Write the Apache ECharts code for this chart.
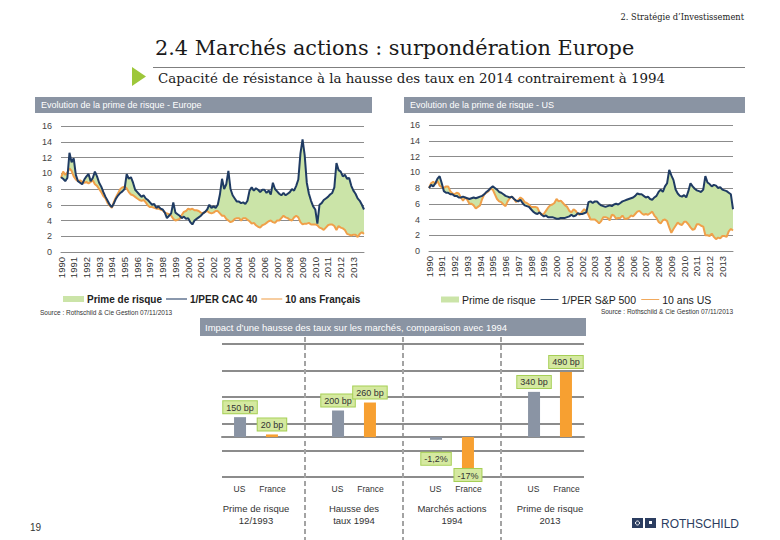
<!DOCTYPE html>
<html><head><meta charset="utf-8">
<script src="https://cdn.jsdelivr.net/npm/echarts@6.0.0/dist/echarts.min.js"></script>
<style>html,body{margin:0;padding:0;background:#fff}#c{width:780px;height:540px}</style>
</head><body><div id="c"></div>
<script>
// ---------- DATA ----------
const years = [1990,1991,1992,1993,1994,1995,1996,1997,1998,1999,2000,2001,2002,2003,2004,2005,2006,2007,2008,2009,2010,2011,2012,2013];
const months = ['01','03','05','07','09','11'];

// Europe : 1/PER CAC 40 (bi-monthly)
const euPer = [
 9.5,9.3,9.0,9.4,12.6,11.4,
 11.9,9.8,9.0,8.8,8.6,9.2,
 9.6,9.9,9.0,9.4,10.2,9.6,
 8.8,8.3,7.6,7.0,6.5,6.0,
 5.7,6.2,6.8,7.2,7.5,7.7,
 8.0,9.9,9.3,9.5,8.8,7.9,
 7.6,7.3,7.0,7.2,6.8,6.6,
 6.3,6.0,6.1,5.6,5.8,5.5,
 5.4,5.0,4.3,4.6,4.9,6.3,
 5.0,4.8,4.6,4.3,4.5,4.2,
 4.3,3.8,3.5,4.0,4.2,4.4,
 4.6,4.9,5.1,5.4,6.0,5.6,
 5.8,5.6,6.0,7.3,9.3,8.0,
 8.6,10.3,8.0,7.2,6.8,6.4,
 6.4,6.2,6.3,6.1,6.5,7.8,
 8.2,7.8,8.1,7.9,7.6,7.9,
 7.9,7.5,7.8,7.3,8.8,8.0,
 7.7,7.4,7.2,7.5,7.2,7.4,
 7.6,8.0,7.8,8.4,9.2,12.5,
 14.3,12.3,8.8,7.4,6.5,5.8,
 5.4,3.6,6.0,6.2,6.6,6.8,
 7.0,7.3,7.5,8.2,11.3,10.4,
 10.2,9.6,9.8,9.3,9.4,8.4,
 7.8,7.4,6.8,6.5,6.0,5.4
];
// Europe : 10 ans Français
const euYield = [
 9.4,10.2,9.8,10.1,10.6,10.3,
 9.6,9.2,9.0,9.1,8.9,8.8,
 8.9,8.7,8.9,9.1,8.6,8.4,
 8.0,7.6,7.1,6.8,6.2,5.9,
 5.6,6.4,7.0,7.5,8.0,8.2,
 8.3,8.1,7.6,7.3,7.2,7.0,
 6.8,6.6,6.5,6.6,6.3,5.9,
 5.7,5.7,5.6,5.5,5.5,5.4,
 5.3,5.0,4.9,4.8,4.6,4.2,
 4.0,4.1,4.2,4.7,5.1,5.2,
 5.5,5.4,5.5,5.3,5.3,5.2,
 5.0,4.9,5.1,5.2,5.0,4.9,
 5.0,5.2,5.2,4.9,4.6,4.6,
 4.2,4.0,3.8,3.9,4.2,4.3,
 4.3,4.0,4.3,4.3,4.1,3.9,
 3.6,3.7,3.4,3.2,3.1,3.4,
 3.5,3.7,3.9,4.0,3.8,3.7,
 4.0,4.0,4.3,4.6,4.4,4.3,
 4.1,4.0,4.4,4.6,4.4,3.8,
 3.5,3.6,3.6,3.7,3.5,3.5,
 3.5,3.4,3.1,3.0,2.8,3.1,
 3.4,3.5,3.5,3.3,2.8,3.3,
 3.1,3.0,2.8,2.3,2.2,2.1,
 2.2,2.2,1.9,2.3,2.5,2.3
];
// US : 1/PER S&P 500
const usPer = [
 8.0,8.4,8.2,8.6,9.2,9.5,
 8.6,7.6,7.4,7.4,7.2,7.2,
 7.0,7.0,6.8,6.8,6.9,6.8,
 6.7,6.6,6.7,6.8,6.7,6.8,
 6.9,7.0,7.2,7.5,7.7,8.0,
 8.2,8.0,7.8,7.5,7.4,7.2,
 7.0,6.9,6.8,6.9,6.6,6.4,
 6.3,6.5,6.1,5.8,5.7,5.6,
 5.3,5.0,4.8,4.7,4.9,4.6,
 4.4,4.5,4.3,4.3,4.3,4.2,
 4.1,4.1,4.2,4.2,4.2,4.3,
 4.4,4.6,4.4,4.5,4.8,4.7,
 4.7,4.8,4.9,6.2,6.3,6.1,
 6.3,6.3,6.0,5.8,5.7,5.6,
 5.7,5.8,5.7,5.9,6.0,5.9,
 6.1,6.3,6.4,6.5,6.6,6.7,
 6.8,7.0,7.3,7.2,7.2,7.0,
 6.8,6.9,6.6,6.5,6.8,7.0,
 7.5,7.8,7.5,8.2,8.6,10.3,
 9.6,9.0,7.8,7.3,7.0,6.9,
 7.1,6.8,7.6,8.6,8.2,7.9,
 7.7,7.6,7.5,7.8,9.5,8.7,
 8.5,8.2,8.4,8.3,8.0,8.1,
 7.8,7.7,7.6,7.4,7.2,5.3
];
// US : 10 ans US
const usYield = [
 8.0,8.6,8.8,8.5,8.9,8.3,
 8.1,8.0,8.2,8.2,7.6,7.3,
 7.2,7.4,7.3,6.8,6.4,6.8,
 6.5,6.0,6.0,5.8,5.4,5.6,
 5.8,6.6,7.2,7.4,7.6,7.9,
 7.8,7.2,6.6,6.3,6.2,5.9,
 5.7,6.3,6.7,6.9,6.6,6.2,
 6.5,6.8,6.6,6.2,6.1,5.9,
 5.6,5.6,5.6,5.5,4.9,4.6,
 4.7,5.1,5.5,5.8,5.9,6.1,
 6.6,6.3,6.4,6.1,5.8,5.6,
 5.1,4.9,5.3,5.1,4.7,4.6,
 5.0,5.3,5.1,4.6,4.0,4.0,
 4.0,3.8,3.5,3.8,4.3,4.3,
 4.2,3.9,4.6,4.5,4.1,4.2,
 4.2,4.5,4.1,4.1,4.2,4.5,
 4.4,4.7,5.0,5.1,4.8,4.6,
 4.7,4.6,4.8,5.0,4.5,4.2,
 3.7,3.5,3.9,4.0,3.8,3.0,
 2.3,2.8,3.2,3.6,3.4,3.3,
 3.7,3.7,3.4,3.0,2.7,2.8,
 3.4,3.4,3.2,3.1,2.0,2.0,
 1.9,2.2,1.8,1.5,1.7,1.6,
 1.9,1.9,1.8,2.5,2.8,2.6
];

// Bar chart
const barGroups = ['Prime de risque\n12/1993','Hausse des\ntaux 1994','Marchés actions\n1994','Prime de risque\n2013'];
const barSubLabels = ['US','France','US','France','US','France','US','France'];
const usBp = [150, 200, null, 340];
const frBp = [20, 260, null, 490];
const usPct = [null, null, -1.2, null];
const frPct = [null, null, -17, null];

// ---------- BUILD ----------
const dates = years.flatMap(y => months.map(m => y + '-' + m));
const diff = (a, b) => a.map((v, i) => +(v - b[i]).toFixed(2));
const euPrem = diff(euPer, euYield);
const usPrem = diff(usPer, usYield);

const SANS = '"Liberation Sans", Arial, sans-serif';
const SERIF = '"DejaVu Serif", Georgia, serif';
const GREEN = '#cbe4a8', NAVY = '#1f3b63', ORANGE = '#f0a04a';
const GRAYBAR = '#8a94a4', ORBAR = '#f7a031';
const LINEICON = 'path://M0,0H40V2H0Z';

function lineX(grid){
  return {type:'category', gridIndex:grid, data:dates, boundaryGap:false, position:'bottom',
    axisLine:{show:true, lineStyle:{color:'#8c8c8c', width:1}},
    axisTick:{show:false},
    axisLabel:{interval:(i)=>i%6===0, formatter:(v)=>v.slice(0,4), rotate:90, fontSize:9.5, fontFamily:SANS, color:'#333', margin:5},
    splitLine:{show:false}};
}
function lineY(grid){
  return {type:'value', gridIndex:grid, min:0, max:16, interval:2,
    axisLine:{show:false}, axisTick:{show:false},
    axisLabel:{fontSize:9, fontFamily:SANS, color:'#444', margin:9},
    splitLine:{lineStyle:{color:'#8c8c8c', width:1}}};
}
function lineSeries(grid, per, yld, prem, perName, yName, stack){
  return [
    {type:'line', name:yName, xAxisIndex:grid, yAxisIndex:grid, data:yld, stack:stack, stackStrategy:'all',
     symbol:'none', lineStyle:{color:ORANGE, width:2}, itemStyle:{color:ORANGE}, z:4},
    {type:'line', name:'Prime de risque', xAxisIndex:grid, yAxisIndex:grid, data:prem, stack:stack, stackStrategy:'all',
     symbol:'none', lineStyle:{width:0, opacity:0}, areaStyle:{color:GREEN, opacity:1}, itemStyle:{color:GREEN}, z:1},
    {type:'line', name:perName, xAxisIndex:grid, yAxisIndex:grid, data:per,
     symbol:'none', lineStyle:{color:NAVY, width:2}, itemStyle:{color:NAVY}, z:5}
  ];
}
const boxLabel = {show:true, fontSize:9, fontFamily:SANS, color:'#333', backgroundColor:'#d5e9a0',
  borderColor:'#a6cf55', borderWidth:1, padding:[2,3,1,3]};

function txt(x, y, text, opt){
  return {type:'text', x:x, y:y, silent:true, style:Object.assign({text:text, fontFamily:SANS, fontSize:9, fill:'#222', align:'left', verticalAlign:'middle'}, opt||{})};
}

const option = {
  animation:false,
  backgroundColor:'#fff',
  grid:[
    {left:61, top:126, width:303, height:126},   // 0 Europe
    {left:429, top:125, width:304, height:126},  // 1 US
    {left:222, top:344, width:362, height:133},  // 2 horizontal lines
    {left:207, top:344, width:392, height:133},  // 3 bars
    {left:207, top:337, width:392, height:203}   // 4 dashed separators
  ],
  xAxis:[
    lineX(0), lineX(1),
    {type:'value', gridIndex:2, min:0, max:1, position:'bottom', offset:-40,
     axisLine:{show:true, onZero:false, lineStyle:{color:'#8c8c8c', width:2}},
     axisTick:{show:false}, axisLabel:{show:false}, splitLine:{show:false}},
    {type:'category', gridIndex:3, data:barGroups, position:'bottom', axisLine:{show:false}, axisTick:{show:false},
     axisLabel:{interval:0, margin:25, fontSize:9.5, lineHeight:12, fontFamily:SANS, color:'#333'}},
    {type:'category', gridIndex:3, data:barGroups, position:'bottom', show:false},
    {type:'category', gridIndex:3, data:barSubLabels, position:'bottom', axisLine:{show:false}, axisTick:{show:false},
     axisLabel:{interval:0, margin:7, fontSize:8.5, fontFamily:SANS, color:'#333',
       formatter:(v,i)=> i%2===0 ? '{u|'+v+'}' : '{f|'+v+'}',
       rich:{u:{padding:[0,0,0,16], fontSize:8.5, fontFamily:SANS, color:'#333'},
             f:{padding:[0,16,0,0], fontSize:8.5, fontFamily:SANS, color:'#333'}}}},
    {type:'category', gridIndex:4, data:barGroups, boundaryGap:true, position:'bottom',
     axisLine:{show:false}, axisTick:{show:false}, axisLabel:{show:false, interval:0},
     splitLine:{show:true, interval:0, showMinLine:false, showMaxLine:false, lineStyle:{type:[5,3], color:'#a3a3a3', width:2}}}
  ],
  yAxis:[
    lineY(0), lineY(1),
    {type:'value', gridIndex:2, min:0, max:5, interval:1, axisLine:{show:false}, axisTick:{show:false},
     axisLabel:{show:false}, splitLine:{show:true, lineStyle:{color:'#8c8c8c', width:2}}},
    {type:'value', gridIndex:3, min:-300, max:700, show:false, splitLine:{show:false}},
    {type:'value', gridIndex:3, min:-17, max:39.5, show:false, splitLine:{show:false}},
    {type:'value', gridIndex:4, min:0, max:1, show:false, splitLine:{show:false}}
  ],
  legend:[
    {left:63, top:294, itemWidth:21, itemHeight:6, itemGap:4, padding:0,
     textStyle:{fontSize:10, fontWeight:'bold', fontFamily:SANS, color:'#222', padding:[0,0,0,-2]},
     data:[{name:'Prime de risque', icon:'rect'}, {name:'1/PER CAC 40', icon:LINEICON}, {name:'10 ans Français', icon:LINEICON}]},
    {left:441, top:294, itemWidth:18, itemHeight:6, itemGap:5, padding:0,
     textStyle:{fontSize:10.5, fontFamily:SANS, color:'#222', padding:[0,0,0,-2]},
     data:[{name:'Prime de risque', icon:'rect'}, {name:'1/PER S&P 500', icon:LINEICON}, {name:'10 ans US', icon:LINEICON}]}
  ],
  series:[
    ...lineSeries(0, euPer, euYield, euPrem, '1/PER CAC 40', '10 ans Français', 'eu'),
    ...lineSeries(1, usPer, usYield, usPrem, '1/PER S&P 500', '10 ans US', 'us'),
    {type:'bar', name:'US bp', xAxisIndex:3, yAxisIndex:3, data:usBp, barWidth:12, barGap:'166%',
     itemStyle:{color:GRAYBAR}, label:Object.assign({position:'top', distance:4, formatter:(p)=>p.value+' bp'}, boxLabel)},
    {type:'bar', name:'France bp', xAxisIndex:3, yAxisIndex:3, data:frBp, barWidth:12, barGap:'166%',
     itemStyle:{color:ORBAR}, label:Object.assign({position:'top', distance:4, formatter:(p)=>p.value+' bp'}, boxLabel)},
    {type:'bar', name:'US pct', xAxisIndex:4, yAxisIndex:4, data:usPct, barWidth:12, barGap:'166%',
     itemStyle:{color:GRAYBAR}, label:Object.assign({position:'bottom', distance:13, formatter:(p)=>String(p.value).replace('.',',')+'%'}, boxLabel)},
    {type:'bar', name:'France pct', xAxisIndex:4, yAxisIndex:4, data:frPct, barWidth:12, barGap:'166%',
     itemStyle:{color:ORBAR}, label:Object.assign({position:'bottom', distance:-8, formatter:(p)=>String(p.value).replace('.',',')+'%'}, boxLabel)}
  ],
  graphic:[
    txt(744, 17, '2. Stratégie d’Investissement', {fontFamily:SERIF, fontSize:8.3, align:'right', fill:'#222'}),
    txt(155, 48, '2.4 Marchés actions : surpondération Europe', {fontFamily:SERIF, fontSize:20.8, fill:'#1a1a1a'}),
    {type:'line', silent:true, shape:{x1:153, y1:67.5, x2:745, y2:67.5}, style:{stroke:'#7f7f7f', lineWidth:1}},
    {type:'polygon', silent:true, shape:{points:[[132,67],[146,76.5],[132,86]]}, style:{fill:'#9dc73a'}},
    txt(158, 78, 'Capacité de résistance à la hausse des taux en 2014 contrairement à 1994', {fontFamily:SERIF, fontSize:13.4, fill:'#1a1a1a'}),
    {type:'rect', silent:true, shape:{x:35, y:97, width:337, height:16}, style:{fill:'#8a94a3'}},
    txt(41, 105, 'Evolution de la prime de risque - Europe', {fill:'#fff', fontSize:9}),
    {type:'rect', silent:true, shape:{x:404, y:97, width:341, height:16}, style:{fill:'#8a94a3'}},
    txt(410, 105, 'Evolution de la prime de risque - US', {fill:'#fff', fontSize:9}),
    txt(40, 312, 'Source : Rothschild & Cie Gestion 07/11/2013', {fontSize:6.5, fill:'#333'}),
    txt(733, 311, 'Source : Rothschild & Cie Gestion 07/11/2013', {fontSize:6.5, fill:'#333', align:'right'}),
    {type:'rect', silent:true, shape:{x:200, y:318, width:386, height:18}, style:{fill:'#8a94a3'}},
    txt(205, 327, 'Impact d’une hausse des taux sur les marchés, comparaison avec 1994', {fill:'#fff', fontSize:9.5}),
    txt(30, 527, '19', {fontSize:10, fill:'#333'}),
    {type:'rect', silent:true, shape:{x:632, y:518, width:11, height:10}, style:{fill:'#2b3d60'}},
    {type:'rect', silent:true, shape:{x:645, y:518, width:11, height:10}, style:{fill:'#2b3d60'}},
    {type:'rect', silent:true, shape:{x:649, y:521, width:3, height:3}, style:{fill:'#ffffff'}},
    {type:'circle', silent:true, shape:{cx:637.5, cy:523, r:2}, style:{fill:'none', stroke:'#ffffff', lineWidth:1}},
    txt(661, 523.5, 'ROTHSCHILD', {fontSize:12, fill:'#2b3d60'})
  ]
};
const chart = echarts.init(document.getElementById('c'), null, {renderer:'svg', width:780, height:540});
chart.setOption(option);
</script>
</body></html>
